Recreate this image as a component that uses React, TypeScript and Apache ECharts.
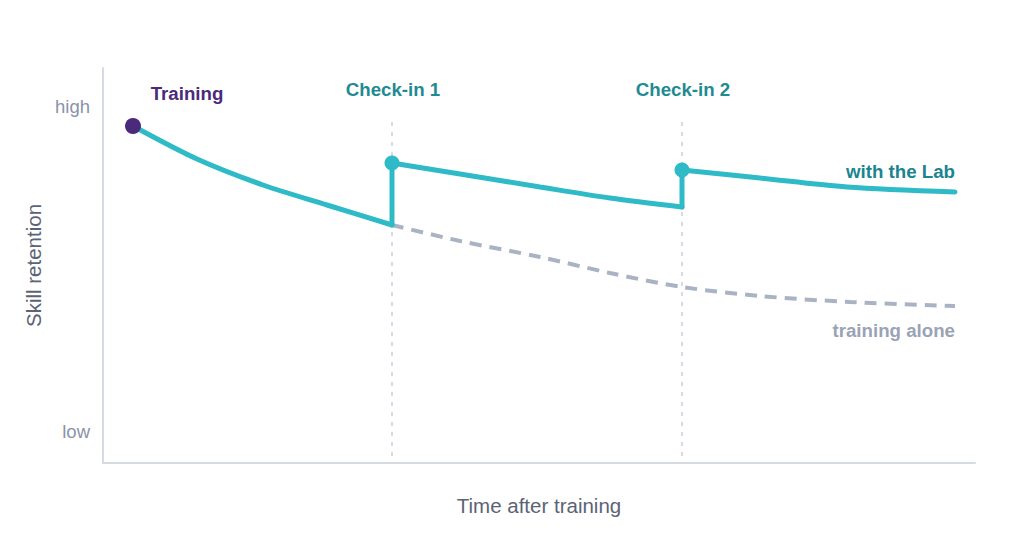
import React, { useEffect, useRef } from "react";
import * as echarts from "echarts";

// x: time after training (arbitrary units), y: skill retention (arbitrary units)
const labSegment1: [number, number][] = [[30, 337], [94, 304], [160, 278], [224, 258], [289, 238]];
const labSegment2: [number, number][] = [[289, 300], [357, 289], [437, 276], [507, 265], [579, 256]];
const labSegment3: [number, number][] = [[579, 293], [657, 285], [744, 276], [852, 271]];
const aloneValues: [number, number][] = [[289, 238], [357, 222], [437, 206], [507, 190], [579, 176], [657, 167], [747, 161], [852, 157]];
const jump1: [number, number][] = [[289, 238], [289, 300]];
const jump2: [number, number][] = [[579, 256], [579, 293]];
const checkinLines: [number, number][][] = [[[289, 341], [289, 0]], [[579, 341], [579, 0]]];
const trainingPoint: [number, number][] = [[30, 337]];
const checkinPoints: [number, number][] = [[289, 300], [579, 293]];
const yTickValues = [32, 357];
const yTickLabels = ["low", "high"];

const TEAL = "#2ebac6";
const FONT = "'Liberation Sans', Arial, Helvetica, sans-serif";

export default function App() {
  const ref = useRef<HTMLDivElement>(null);
  useEffect(() => {
    if (!ref.current) return;
    const chart = echarts.init(ref.current, null, { renderer: "svg" });
    const lineBase = { type: "line", symbol: "none", silent: true, z: 3 };
    chart.setOption({
      animation: false,
      textStyle: { fontFamily: FONT },
      grid: { left: 103, right: 49, top: 68, bottom: 83 },
      xAxis: {
        type: "value",
        min: 0,
        max: 872,
        name: "Time after training",
        nameLocation: "middle",
        nameGap: 32,
        nameTextStyle: { color: "#5b6375", fontSize: 20.5, fontFamily: FONT },
        axisLine: { show: true, lineStyle: { color: "#d5dae3", width: 2 } },
        axisTick: { show: false },
        axisLabel: { show: false },
        splitLine: { show: false },
      },
      yAxis: {
        type: "value",
        min: 0,
        max: 395,
        name: "Skill retention",
        nameLocation: "middle",
        nameGap: 56,
        nameRotate: 90,
        nameTextStyle: { color: "#5b6375", fontSize: 20.5, fontFamily: FONT },
        axisLine: { show: true, lineStyle: { color: "#d5dae3", width: 2 } },
        axisTick: { show: false },
        splitLine: { show: false },
        axisLabel: {
          customValues: yTickValues,
          margin: 13,
          color: "#8a93a8",
          fontSize: 18.5,
          fontFamily: FONT,
          formatter: (v: number) => {
            const i = yTickValues.indexOf(v);
            return i >= 0 ? yTickLabels[i] : "";
          },
        },
      },
      series: [
        ...checkinLines.map((d) => ({
          ...lineBase,
          z: 1,
          data: d,
          lineStyle: { color: "#dcd9e7", width: 2, type: [4, 6] },
        })),
        {
          ...lineBase,
          z: 2,
          data: aloneValues,
          smooth: 0.3,
          lineStyle: { color: "#aab3c4", width: 4, type: [12, 8] },
        },
        ...[labSegment1, labSegment2, labSegment3].map((d) => ({
          ...lineBase,
          data: d,
          smooth: 0.3,
          lineStyle: { color: TEAL, width: 5, cap: "round" },
        })),
        ...[jump1, jump2].map((d) => ({
          ...lineBase,
          data: d,
          lineStyle: { color: TEAL, width: 5, cap: "round" },
        })),
        {
          type: "scatter",
          data: checkinPoints,
          symbolSize: 15,
          itemStyle: { color: TEAL, opacity: 1 },
          z: 5,
          silent: true,
        },
        {
          type: "scatter",
          data: trainingPoint,
          symbolSize: 16,
          itemStyle: { color: "#4b2a7b", opacity: 1 },
          z: 5,
          silent: true,
        },
      ],
      graphic: [
        { type: "text", x: 187, y: 93, style: { text: "Training", fill: "#4b2a7b", font: `bold 18.7px ${FONT}`, textAlign: "center", textVerticalAlign: "middle" } },
        { type: "text", x: 393, y: 89, style: { text: "Check-in 1", fill: "#1f8a92", font: `bold 18.7px ${FONT}`, textAlign: "center", textVerticalAlign: "middle" } },
        { type: "text", x: 683, y: 89, style: { text: "Check-in 2", fill: "#1f8a92", font: `bold 18.7px ${FONT}`, textAlign: "center", textVerticalAlign: "middle" } },
        { type: "text", x: 955, y: 171, style: { text: "with the Lab", fill: "#1a858e", font: `bold 18.7px ${FONT}`, textAlign: "right", textVerticalAlign: "middle" } },
        { type: "text", x: 955, y: 330, style: { text: "training alone", fill: "#9aa3b5", font: `bold 18.7px ${FONT}`, textAlign: "right", textVerticalAlign: "middle" } },
      ],
    });
    return () => chart.dispose();
  }, []);
  return <div ref={ref} style={{ position: "fixed", left: 0, top: 0, width: 1024, height: 546, background: "#fff" }} />;
}
